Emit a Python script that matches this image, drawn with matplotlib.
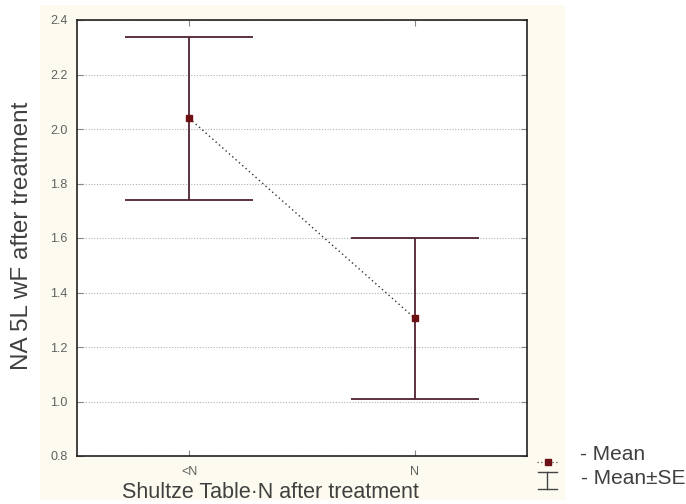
import matplotlib
matplotlib.use('Agg')
import matplotlib.pyplot as plt
from matplotlib.lines import Line2D
from matplotlib.patches import Rectangle

# data
categories = ['<N', 'N']
means = [2.04, 1.305]
se = [0.299, 0.294]
yticks = [0.8, 1.0, 1.2, 1.4, 1.6, 1.8, 2.0, 2.2, 2.4]

bar_col = '#4e2232'
mean_col = '#6e0f14'
tick_col = '#606060'
text_col = '#404040'

plt.rcParams['font.family'] = ['Liberation Sans', 'DejaVu Sans']

W, H = 686, 504
fig = plt.figure(figsize=(6.86, 5.04), dpi=100, facecolor='white')
# cream panel behind the plot
fig.patches.append(Rectangle((40 / W, 1 - 500 / H), 525 / W, 495 / H,
                             transform=fig.transFigure, facecolor='#fdfbef',
                             edgecolor='none', zorder=-5))

ax = fig.add_axes([77 / W, 1 - 456 / H, 450 / W, 436 / H])
ax.set_zorder(2)
ax.set_facecolor('white')

x = list(range(len(categories)))
ax.errorbar(x, means, yerr=se, fmt='none', ecolor=bar_col, elinewidth=1.3,
            capsize=46, capthick=1.3, zorder=3)
ax.plot(x, means, color='#333333', ls=(0, (1, 2.2)), lw=1.0, zorder=4)
ax.plot(x, means, ls='none', marker='s', ms=5, color=mean_col, zorder=5)

ax.set_xlim(-0.496, 1.496)
ax.set_ylim(0.8, 2.4)
ax.set_xticks(x)
ax.set_xticklabels(categories)
ax.set_yticks(yticks)
ax.set_yticklabels(['%.1f' % v for v in yticks])
ax.grid(axis='y', color='#b0b0b0', ls=(0, (1, 1.5)), lw=0.8)
ax.tick_params(direction='in', length=4, width=0.8, color='#888888',
               labelsize=9, labelcolor=tick_col, top=True, right=True, pad=7)
for s in ax.spines.values():
    s.set_color('#222222')
    s.set_linewidth(1.2)

fig.text(22 / W, 1 - 236 / H, 'NA 5L wF after treatment', rotation=90,
         ha='center', va='center', fontsize=17.5, color=text_col)
fig.text(270 / W, 1 - 493 / H, 'Shultze Table\u00b7N after treatment',
         ha='center', va='center', fontsize=15.5, color=text_col)

# legend drawn by hand
tf = fig.transFigure
fig.add_artist(Line2D([537 / W, 559 / W], [1 - 462 / H] * 2, transform=tf,
                      color='#555555', ls=(0, (1, 2)), lw=0.9))
fig.add_artist(Line2D([548 / W], [1 - 462 / H], transform=tf, ls='none',
                      marker='s', ms=5, color=mean_col))
fig.add_artist(Line2D([547 / W] * 2, [1 - 472 / H, 1 - 489 / H], transform=tf,
                      color='#444444', lw=1))
fig.add_artist(Line2D([538 / W, 557 / W], [1 - 472 / H] * 2, transform=tf,
                      color='#444444', lw=1))
fig.add_artist(Line2D([538 / W, 557 / W], [1 - 489 / H] * 2, transform=tf,
                      color='#444444', lw=1))
fig.text(580 / W, 1 - 455 / H, '- Mean', ha='left', va='center',
         fontsize=15, color=text_col)
fig.text(581 / W, 1 - 478 / H, '- Mean\u00b1SE', ha='left', va='center',
         fontsize=15, color=text_col)

fig.savefig('out.png', dpi=100, facecolor=fig.get_facecolor())
